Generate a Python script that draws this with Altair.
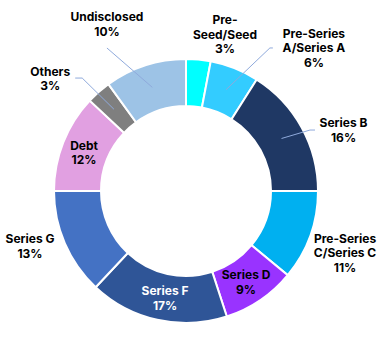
import math
import altair as alt
import pandas as pd

# ---- data ----
categories = ["Pre-Seed/Seed", "Pre-Series A/Series A", "Series B", "Pre-Series C/Series C",
              "Series D", "Series F", "Series G", "Debt", "Others", "Undisclosed"]
shares = [3, 6, 16, 11, 9, 17, 13, 12, 3, 10]
label_names = ["Pre-\nSeed/Seed", "Pre-Series\nA/Series A", "Series B", "Pre-Series\nC/Series C",
               "Series D", "Series F", "Series G", "Debt", "Others", "Undisclosed"]

# ---- styles / layout ----
colors = ["#00FFFF", "#33CCFF", "#1F3864", "#00B0F0", "#9933FF",
          "#2F5597", "#4472C4", "#E1A0E1", "#7F7F7F", "#9DC3E6"]
text_colors = ["#000000"] * 5 + ["#FFFFFF"] + ["#000000"] * 4
CX, CY = 186, 191
R_IN, R_OUT = 85, 132
LINE_H = 14.5
label_r = [161, 191.5, 168.7, 170.7, 109.4, 109.5, 165.6, 108.8, 176, 184.3]
label_deg = [14.0, 41.9, 69.0, 111.3, 146.7, 191.0, 250.4, 290.4, 309.5, 334.6]
# leader tails relative to label centre (elbow, end)
leader_tails = {
    "Pre-Series A/Series A": [(-44, -0.5), (-41, -0.5)],
    "Series B": [(-33.5, -0.5), (-28.5, -0.5)],
    "Others": [(32, -1), (25, -1)],
    "Undisclosed": [(0, 23.5)],
}
LEADER_R = 109

df = pd.DataFrame({"category": categories, "share": shares, "order": list(range(len(categories)))})

total = sum(shares)
mids = []
acc = 0
for s in shares:
    mids.append((acc + s / 2) / total * 360)
    acc += s


def polar(r, deg):
    a = math.radians(deg)
    return CX + r * math.sin(a), CY - r * math.cos(a)


lab_rows = []
for i, c in enumerate(categories):
    lx, ly = polar(label_r[i], label_deg[i])
    txt = f"{label_names[i]}\n{shares[i]}%"
    n = txt.count("\n") + 1
    lab_rows.append({"category": c, "lx": lx, "ly": ly - (n - 1) / 2 * LINE_H,
                     "text": txt, "tcolor": text_colors[i]})
lab_df = pd.DataFrame(lab_rows)

line_rows = []
for i, c in enumerate(categories):
    if c not in leader_tails:
        continue
    sx, sy = polar(LEADER_R, mids[i])
    pts = [(sx, sy)]
    lx, ly = polar(label_r[i], label_deg[i])
    for dx, dy in leader_tails[c]:
        pts.append((lx + dx, ly + dy))
    for k, (px, py) in enumerate(pts):
        line_rows.append({"category": c, "k": k, "px": px, "py": py})
line_df = pd.DataFrame(line_rows)

arcs = alt.Chart(df).mark_arc(innerRadius=R_IN, outerRadius=R_OUT, stroke="white", strokeWidth=2).encode(
    theta=alt.Theta("share:Q", stack=True),
    order=alt.Order("order:Q"),
    color=alt.Color("category:N", scale=alt.Scale(domain=categories, range=colors), legend=None),
    x=alt.value(CX),
    y=alt.value(CY),
)

leaders = alt.Chart(line_df).mark_line(color="#8FAADC", strokeWidth=1).encode(
    x=alt.X("px:Q", scale=None, axis=None),
    y=alt.Y("py:Q", scale=None, axis=None),
    detail="category:N",
    order="k:Q",
)

labels = alt.Chart(lab_df).mark_text(
    font="Inter", fontWeight="bold", fontSize=12, lineBreak="\n", lineHeight=LINE_H,
    align="center", baseline="middle",
).encode(
    x=alt.X("lx:Q", scale=None, axis=None),
    y=alt.Y("ly:Q", scale=None, axis=None),
    text="text:N",
    color=alt.Color("tcolor:N", scale=None),
)

chart = alt.layer(arcs, leaders, labels).properties(
    width=381, height=337, padding=0, autosize=alt.AutoSizeParams(type="none"),
    background="white",
).configure_view(stroke=None)

chart.save("out.html", embed_options={"renderer": "svg", "actions": False})
